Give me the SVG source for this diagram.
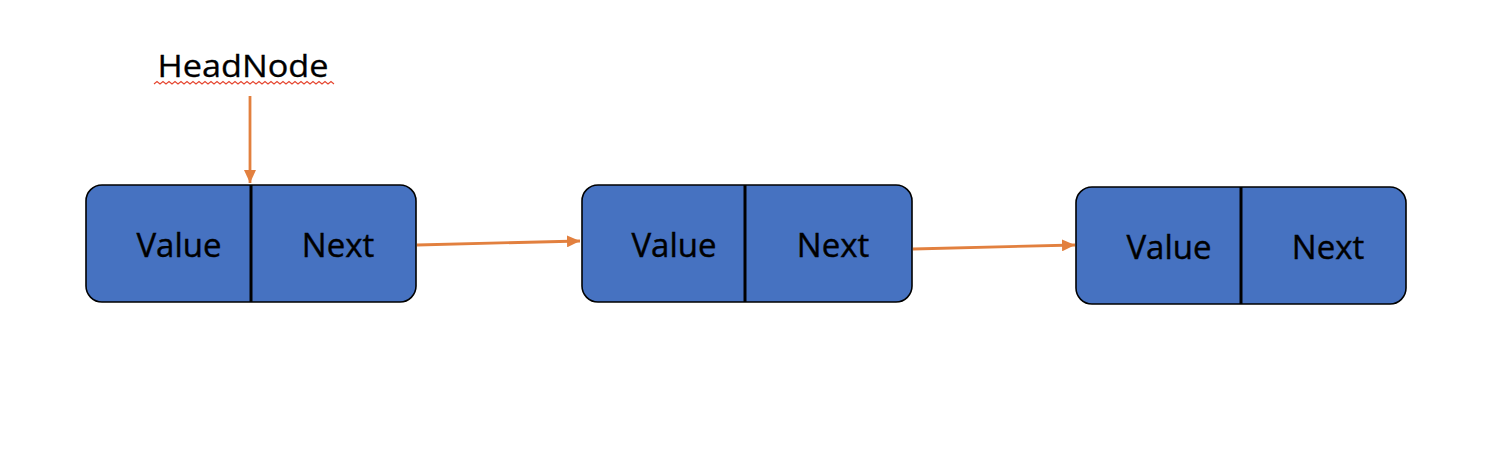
<svg xmlns="http://www.w3.org/2000/svg" width="1512" height="466" viewBox="0 0 1512 466">
<style>
.box{fill:#4672C1;stroke:#000;stroke-width:1.6}
.div{stroke:#000;stroke-width:3}
.lbl{font-family:"Open Sans","Noto Sans",sans-serif;font-size:33px;fill:#000;text-anchor:middle;stroke:#000;stroke-width:0.4}
.conn{stroke:#E2803F;stroke-width:2.8;fill:none}
</style>
<defs>
<marker id="ah" markerUnits="userSpaceOnUse" markerWidth="14" markerHeight="12" refX="13" refY="6" orient="auto">
<path d="M0,0 L13,6 L0,12 Z" fill="#E2803F"/>
</marker>
</defs>
<rect width="1512" height="466" fill="#fff"/>
<g id="headnode">
<text x="243" y="77" font-family="'Open Sans','Noto Sans',sans-serif" font-size="31" text-anchor="middle" textLength="171" lengthAdjust="spacingAndGlyphs" stroke="#000" stroke-width="0.3">HeadNode</text>
<path d="M154,84 l3,-2.5 l3,2.5 l3,-2.5 l3,2.5 l3,-2.5 l3,2.5 l3,-2.5 l3,2.5 l3,-2.5 l3,2.5 l3,-2.5 l3,2.5 l3,-2.5 l3,2.5 l3,-2.5 l3,2.5 l3,-2.5 l3,2.5 l3,-2.5 l3,2.5 l3,-2.5 l3,2.5 l3,-2.5 l3,2.5 l3,-2.5 l3,2.5 l3,-2.5 l3,2.5 l3,-2.5 l3,2.5 l3,-2.5 l3,2.5 l3,-2.5 l3,2.5 l3,-2.5 l3,2.5 l3,-2.5 l3,2.5 l3,-2.5 l3,2.5 l3,-2.5 l3,2.5 l3,-2.5 l3,2.5 l3,-2.5 l3,2.5 l3,-2.5 l3,2.5 l3,-2.5 l3,2.5 l3,-2.5 l3,2.5 l3,-2.5 l3,2.5 l3,-2.5 l3,2.5 l3,-2.5 l3,2.5 l3,-2.5 l3,2.5" fill="none" stroke="#E5452F" stroke-width="1.1"/>
</g>
<g id="node1">
<rect class="box" x="86" y="185" width="330" height="117" rx="16"/>
<line class="div" x1="251" y1="185" x2="251" y2="302"/>
<text class="lbl" x="179" y="257">Value</text>
<text class="lbl" x="338" y="257">Next</text>
</g>
<g id="node2">
<rect class="box" x="582" y="185" width="330" height="117" rx="16"/>
<line class="div" x1="745" y1="185" x2="745" y2="302"/>
<text class="lbl" x="674" y="257">Value</text>
<text class="lbl" x="833" y="257">Next</text>
</g>
<g id="node3">
<rect class="box" x="1076" y="187" width="330" height="117" rx="16"/>
<line class="div" x1="1241" y1="187" x2="1241" y2="304"/>
<text class="lbl" x="1169" y="259">Value</text>
<text class="lbl" x="1328" y="259">Next</text>
</g>
<g id="connectors">
<line class="conn" x1="250" y1="96" x2="250" y2="183" marker-end="url(#ah)"/>
<line class="conn" x1="417" y1="245" x2="580" y2="241" marker-end="url(#ah)"/>
<line class="conn" x1="913" y1="249" x2="1075" y2="245" marker-end="url(#ah)"/>
</g>
</svg>
